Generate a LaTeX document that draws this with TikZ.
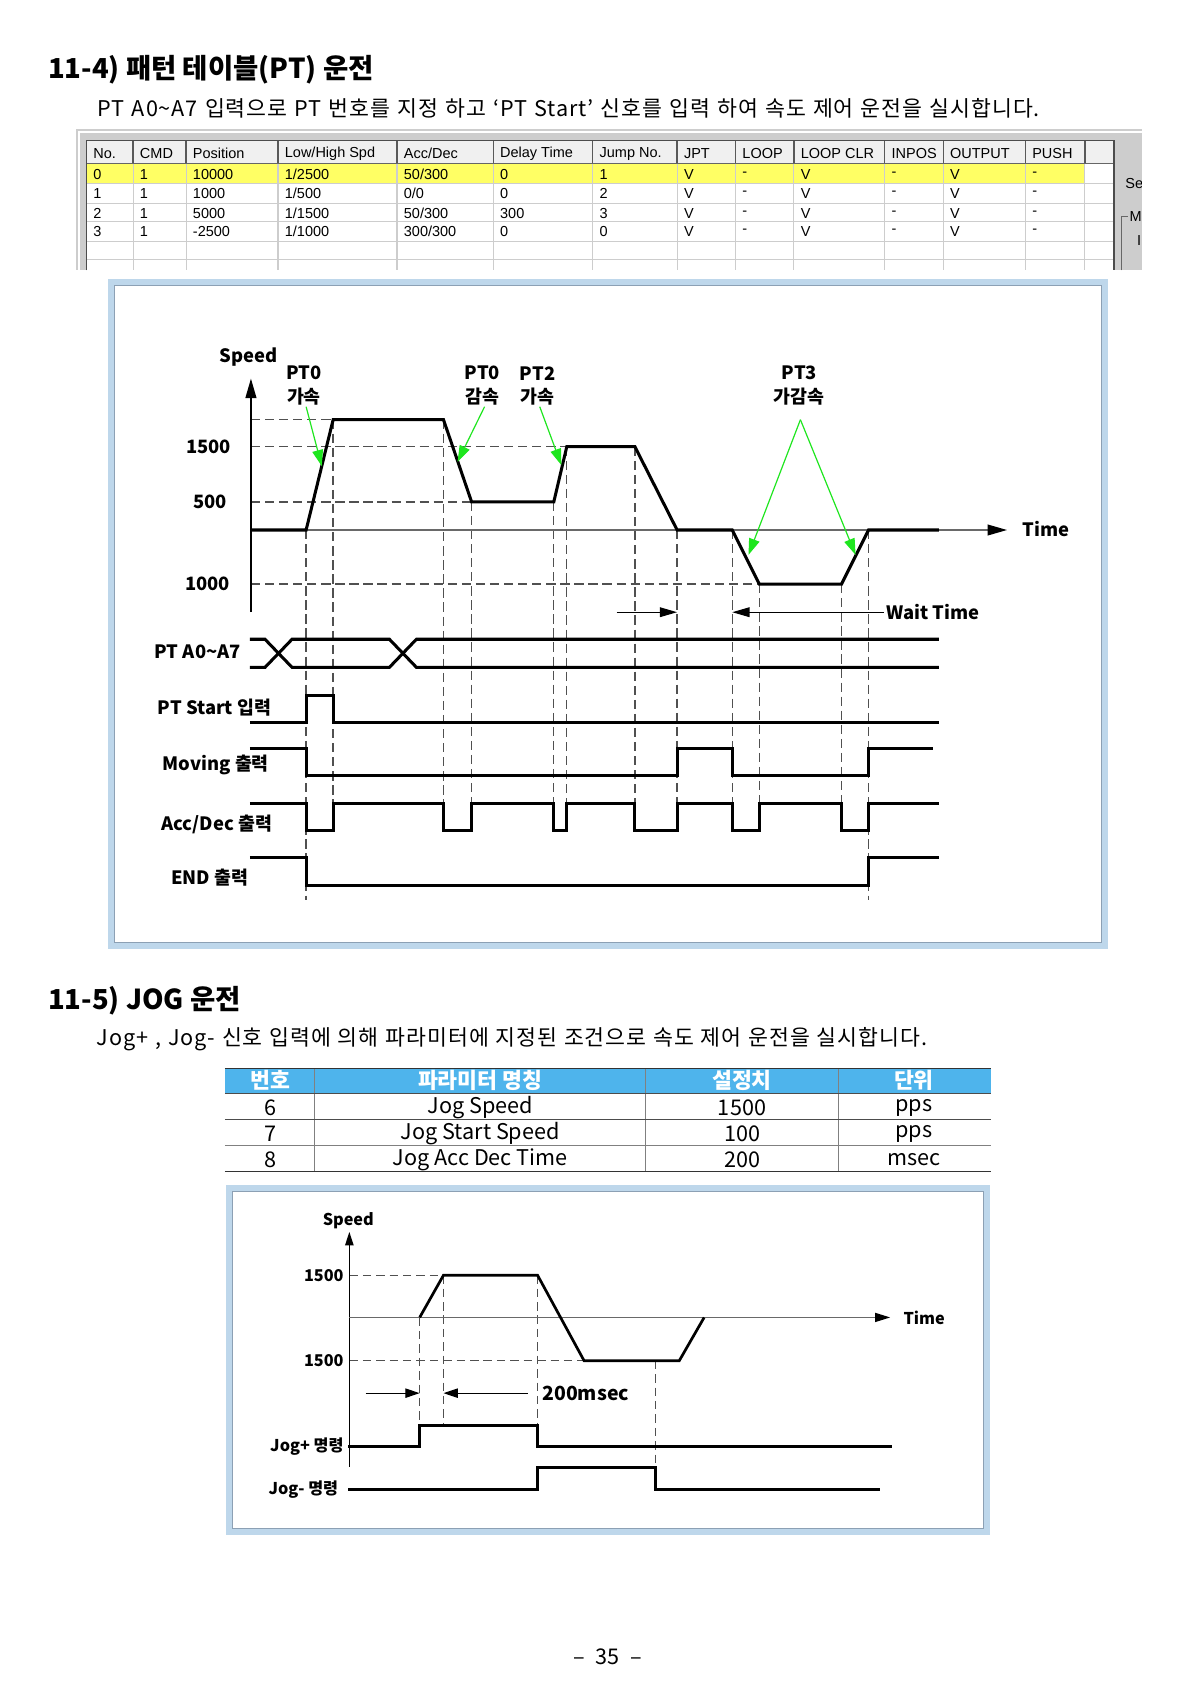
\documentclass[tikz,border=0pt]{standalone}
\usepackage{fontspec}
\setmainfont{Noto Sans CJK KR}
\newfontfamily\tbfont{Liberation Sans}
\usetikzlibrary{arrows.meta}
\definecolor{frameblue}{RGB}{190,215,235}
\definecolor{framegray}{RGB}{140,160,180}
\definecolor{grn}{RGB}{30,230,30}
\definecolor{dashgray}{RGB}{80,80,80}
\definecolor{axisgray}{RGB}{105,105,105}
\definecolor{winfr}{RGB}{205,205,205}
\definecolor{hdrgray}{RGB}{240,240,240}
\definecolor{gridgray}{RGB}{205,205,205}
\definecolor{rowyel}{RGB}{255,255,100}
\definecolor{jogblue}{RGB}{78,180,236}
\def\sl{/}
\newcommand\wsp[1]{\spaceskip=#1\relax}
\begin{document}
\begin{tikzpicture}[x=0.5pt,y=-0.5pt,
 sig/.style={line width=1.4pt, line join=miter, line cap=butt},
 jsig/.style={line width=1.25pt, line join=miter},
 dsh/.style={dashgray, line width=0.6pt, dash pattern=on 4.3pt off 2.2pt},
 jdsh/.style={dashgray, line width=0.55pt, dash pattern=on 3.9pt off 2.3pt},
 grarr/.style={grn, line width=0.55pt, -{Triangle[length=7.5pt,width=5pt]}},
 dimarr/.style={line width=0.55pt, -{Triangle[length=8pt,width=4.5pt]}},
 jdimarr/.style={line width=0.55pt, -{Triangle[length=6.6pt,width=4.3pt]}},
 lbl/.style={font=\bfseries\fontsize{8.5pt}{10pt}\selectfont, inner sep=0pt},
 jlbl/.style={font=\bfseries\fontsize{7.5pt}{9pt}\selectfont, inner sep=0pt},
 body/.style={font=\fontsize{10pt}{12pt}\selectfont\addfontfeatures{LetterSpace=4.3}, inner sep=0pt, anchor=west},
 ttl/.style={font=\bfseries\fontsize{12.7pt}{15pt}\selectfont, inner sep=0pt, anchor=west},
 tb/.style={font=\tbfont\fontsize{6.7pt}{8pt}\selectfont, inner sep=0pt, anchor=west},
 jt/.style={font=\fontsize{10pt}{12pt}\selectfont, inner sep=0pt},
 jth/.style={font=\bfseries\fontsize{10pt}{12pt}\selectfont, inner sep=0pt, text=white},
 frameb/.style={frameblue, line width=2.6pt},
 framei/.style={framegray, line width=0.4pt}]
\fill[white] (0,0) rectangle (1109,1568);
\useasboundingbox (0,0) rectangle (1109,1568);

% ---------- section 11-4 ----------
\node[ttl] (t1) at (44,64) {11-4) 패턴 테이블(PT) 운전};
\node[body] (s1) at (90,100) {\wsp{3.3pt plus 1pt}PT A0\textasciitilde A7 입력으로 PT 번호를 지정 하고 `PT Start' 신호를 입력 하여 속도 제어 운전을 실시합니다.};

% screenshot table
\fill[winfr] (70,119) rectangle (1056,250);
\draw[white, line width=0.8pt] (73,250) -- (73,122) -- (1056,122);
\fill[white] (80,130) rectangle (1030,250);
\fill[hdrgray] (80,130) rectangle (1030,151);
\fill[rowyel] (80,151) rectangle (1003,170);
\foreach \yy in {170,188,205,223,240} \draw[gridgray, line width=0.5pt] (80,\yy) -- (1030,\yy);
\foreach \xx in {123,172,257,367,456,548,626,680,734,818,872,948,1003} {
  \draw[gridgray, line width=0.5pt] (\xx,151) -- (\xx,250);
  \draw[black!65, line width=0.6pt] (\xx,130) -- (\xx,151);
}
\draw[black!60, line width=0.5pt] (80,151) -- (1030,151);
\draw[black!70, line width=0.8pt] (80,250) -- (80,130) -- (1030,130) -- (1030,250);
\foreach \xx/\t [count=\c] in {80/No., 123/CMD, 172/Position, 257/Low\sl High Spd, 367/Acc\sl Dec, 456/Delay Time, 548/Jump No., 626/JPT, 680/LOOP, 734/LOOP CLR, 818/INPOS, 872/OUTPUT, 948/PUSH}
  \node[tb] (h\c) at (\xx+6,142) {\t};
\foreach \xx/\t [count=\c] in {80/0, 123/1, 172/10000, 257/1\sl 2500, 367/50\sl 300, 456/0, 548/1, 626/V, 680/-, 734/V, 818/-, 872/V, 948/-}
  \node[tb] (ra\c) at (\xx+6,161) {\t};
\foreach \xx/\t [count=\c] in {80/1, 123/1, 172/1000, 257/1\sl 500, 367/0\sl 0, 456/0, 548/2, 626/V, 680/-, 734/V, 818/-, 872/V, 948/-}
  \node[tb] (rb\c) at (\xx+6,179) {\t};
\foreach \xx/\t [count=\c] in {80/2, 123/1, 172/5000, 257/1\sl 1500, 367/50\sl 300, 456/300, 548/3, 626/V, 680/-, 734/V, 818/-, 872/V, 948/-}
  \node[tb] (rc\c) at (\xx+6,197) {\t};
\foreach \xx/\t [count=\c] in {80/3, 123/1, 172/-2500, 257/1\sl 1000, 367/300\sl 300, 456/0, 548/0, 626/V, 680/-, 734/V, 818/-, 872/V, 948/-}
  \node[tb] (rd\c) at (\xx+6,214) {\t};
\begin{scope}
 \clip (1031,119) rectangle (1055,250);
 \node[tb] (fs) at (1040,170) {Se};
 \draw[black!60, line width=0.5pt] (1037,250) -- (1037,200) -- (1043,200);
 \node[tb] (fm) at (1044,200) {M};
 \node[tb] (fi) at (1051,222) {I};
\end{scope}

% diagram 1 frame
\draw[frameb] (102.5,260.5) rectangle (1021.5,874.5);
\draw[framei] (105.5,263.5) rectangle (1018.5,871.5);

% dashed guides
\draw[dsh] (232,388) -- (308,388);
\draw[dsh] (232,413) -- (524,413);
\draw[dsh] (232,464) -- (436,464);
\draw[dsh] (232,540) -- (702,540);
\foreach \xx/\ya/\yb in {283/490/832, 308/388/769, 410/388/769, 436/464/769, 512/464/769, 524/413/769, 587/413/769, 626/490/769, 677/490/769, 702/540/769, 778/540/769, 803/490/832}
  \draw[dsh] (\xx,\ya) -- (\xx,\yb);

% axes
\draw[line width=0.75pt, -{Triangle[length=9pt,width=5pt]}] (232,566) -- (232,350);
\draw[axisgray, line width=0.65pt, -{Triangle[length=9pt,width=5pt,color=black]}] (232,490) -- (931,490);

% speed profile
\draw[sig] (232,490) -- (283,490) -- (308,388) -- (410,388) -- (436,464) -- (512,464) -- (524,413) -- (587,413) -- (626,490) -- (677,490) -- (702,540) -- (778,540) -- (803,490) -- (868,490);

% labels
\node[lbl] (spd) at (230,330) {Speed};
\node[lbl] (v1500) at (193,413) {1500};
\node[lbl] (v500) at (194,464) {500};
\node[lbl] (v1000) at (192,540) {1000};
\node[lbl] (la1) at (281,345) {PT0};
\node[lbl] (la2) at (281,367) {가속};
\node[lbl] (lb1) at (446,345) {PT0};
\node[lbl] (lb2) at (446,367) {감속};
\node[lbl] (lc1) at (497,345) {PT2};
\node[lbl] (lc2) at (497,367) {가속};
\node[lbl] (ld1) at (739,345) {PT3};
\node[lbl] (ld2) at (739,367) {가감속};
\node[lbl] (tm) at (967,489) {Time};
\node[lbl, anchor=west] (wt) at (819,566) {Wait Time};

% green arrows
\draw[grarr] (283,376) -- (297.5,431);
\draw[grarr] (448,376) -- (423,427);
\draw[grarr] (499,376) -- (519,430);
\draw[grarr] (740,388) -- (692,513);
\draw[grarr] (740,388) -- (791,513);

% wait time arrows
\draw[dimarr] (570,566) -- (626,566);
\draw[dimarr] (817,566) -- (677,566);

% signals
\draw[sig] (231,591) -- (245,591) -- (270,617) -- (360,617) -- (385,591) -- (868,591);
\draw[sig] (231,617) -- (245,617) -- (270,591) -- (360,591) -- (385,617) -- (868,617);
\draw[sig] (231,668) -- (283,668) -- (283,643) -- (308,643) -- (308,668) -- (868,668);
\draw[sig] (231,692) -- (283,692) -- (283,717) -- (626,717) -- (626,692) -- (677,692) -- (677,717) -- (803,717) -- (803,692) -- (863,692);
\draw[sig] (231,743) -- (283,743) -- (283,768) -- (308,768) -- (308,743) -- (410,743) -- (410,768) -- (436,768) -- (436,743) -- (512,743) -- (512,768) -- (524,768) -- (524,743) -- (587,743) -- (587,768) -- (626,768) -- (626,743) -- (677,743) -- (677,768) -- (702,768) -- (702,743) -- (778,743) -- (778,768) -- (803,768) -- (803,743) -- (868,743);
\draw[sig] (231,793) -- (283,793) -- (283,819) -- (803,819) -- (803,793) -- (868,793);

\node[lbl, anchor=east] (sg1) at (223,603) {PT A0\textasciitilde A7};
\node[lbl, anchor=east] (sg2) at (251,654) {PT Start 입력};
\node[lbl, anchor=east] (sg3) at (249,707) {Moving 출력};
\node[lbl, anchor=east] (sg4) at (252,762) {Acc/Dec 출력};
\node[lbl, anchor=east] (sg5) at (230,811) {END 출력};

% ---------- section 11-5 ----------
\node[ttl] (t2) at (44,925) {11-5) JOG 운전};
\node[body, font=\fontsize{10pt}{12pt}\selectfont\addfontfeatures{LetterSpace=4.6}] (s2) at (89,961) {\wsp{3.1pt plus 1pt}Jog+ , Jog- 신호 입력에 의해 파라미터에 지정된 조건으로 속도 제어 운전을 실시합니다.};

\fill[jogblue] (208,988) rectangle (916,1011);
\foreach \xx in {291,597,775} \draw[gray, line width=0.4pt] (\xx,988) -- (\xx,1083);
\draw[black!80, line width=0.7pt] (208,988) -- (916,988);
\draw[black!70, line width=0.5pt] (208,1011) -- (916,1011);
\draw[black!70, line width=0.5pt] (208,1035) -- (916,1035);
\draw[black!50, line width=0.8pt] (208,1059) -- (916,1059);
\draw[black!80, line width=0.7pt] (208,1083) -- (916,1083);
\node[jth] (jh1) at (250,999) {번호};
\node[jth] (jh2) at (444,999) {파라미터 명칭};
\node[jth] (jh3) at (686,999) {설정치};
\node[jth] (jh4) at (845,999) {단위};
\node[jt] (j11) at (250,1024) {6};
\node[jt] (j12) at (444,1024) {Jog Speed};
\node[jt] (j13) at (686,1024) {1500};
\node[jt] (j14) at (845,1024) {pps};
\node[jt] (j21) at (250,1048) {7};
\node[jt] (j22) at (444,1048) {Jog Start Speed};
\node[jt] (j23) at (686,1048) {100};
\node[jt] (j24) at (845,1048) {pps};
\node[jt] (j31) at (250,1072) {8};
\node[jt] (j32) at (444,1072) {Jog Acc Dec Time};
\node[jt] (j33) at (686,1072) {200};
\node[jt] (j34) at (845,1072) {msec};

% jog diagram frame
\draw[frameb] (211.5,1098.5) rectangle (912.5,1416.5);
\draw[framei] (214.5,1101.5) rectangle (909.5,1413.5);

\draw[jdsh] (323,1179) -- (410,1179);
\draw[jdsh] (323,1258) -- (540,1258);
\draw[jdsh] (388,1218) -- (388,1318);
\draw[jdsh] (410,1179) -- (410,1318);
\draw[jdsh] (497,1179) -- (497,1318);
\draw[jdsh] (606,1258) -- (606,1357);

\draw[line width=0.65pt, -{Triangle[length=6.2pt,width=3.9pt]}] (323,1356) -- (323,1139);
\draw[axisgray, line width=0.6pt, -{Triangle[length=7pt,width=4.2pt,color=black]}] (323,1218) -- (823,1218);

\draw[jsig] (388,1218) -- (410,1179) -- (497,1179) -- (540,1258) -- (628,1258) -- (651,1218);

\draw[jdimarr] (338,1288) -- (388,1288);
\draw[jdimarr] (488,1288) -- (410,1288);

\node[jlbl] (jspd) at (322,1129) {Speed};
\node[jlbl, anchor=east] (j1500a) at (318,1179) {1500};
\node[jlbl, anchor=east] (j1500b) at (318,1258) {1500};
\node[jlbl, anchor=west] (jtm) at (835,1218) {Time};
\node[lbl, font=\bfseries\fontsize{9pt}{11pt}\selectfont, anchor=west] (jms) at (501,1288) {200msec};
\node[jlbl, anchor=east] (jp) at (318,1337) {Jog+ 명령};
\node[jlbl, anchor=east] (jm) at (313,1377) {Jog- 명령};

\draw[jsig] (322,1337) -- (388,1337) -- (388,1318) -- (497,1318) -- (497,1337) -- (825,1337);
\draw[jsig] (322,1377) -- (497,1377) -- (497,1357) -- (606,1357) -- (606,1377) -- (814,1377);

\node[font=\fontsize{10pt}{12pt}\selectfont, inner sep=0pt] (pg) at (562,1532) {\textendash\hspace{5pt}35\hspace{5pt}\textendash};
\end{tikzpicture}
\end{document}
